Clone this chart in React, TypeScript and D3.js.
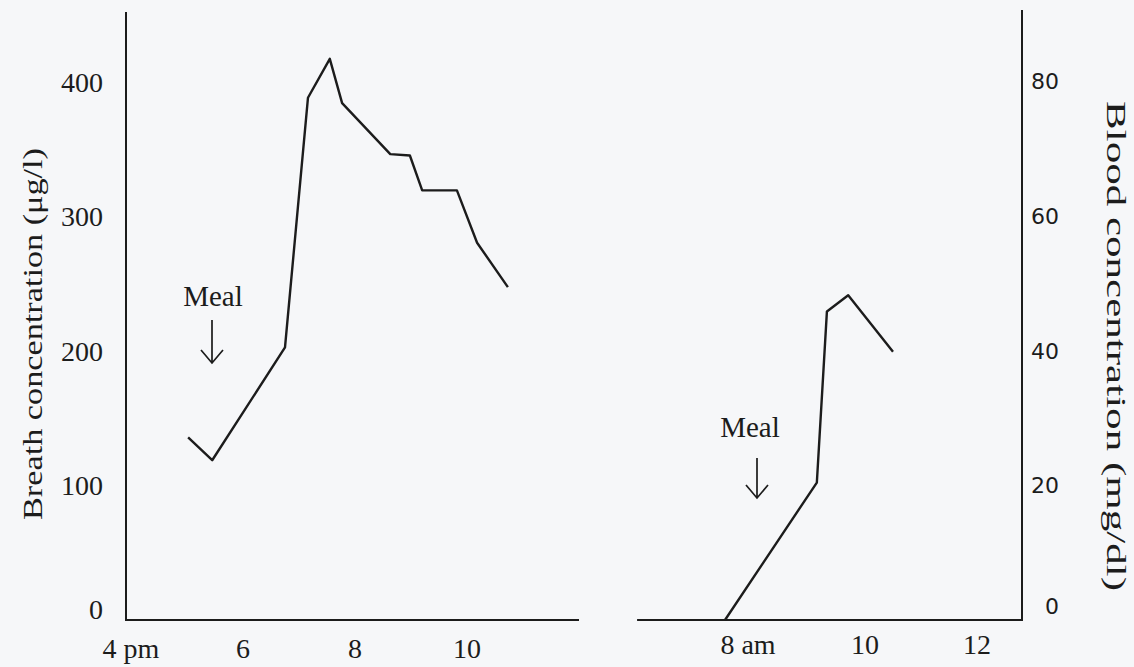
import React, { useEffect, useRef } from 'react';
import * as d3 from 'd3';

// evening series (breath, ug/l) - hours on a 24h clock
const eveningHours = [17.02, 17.45, 18.75, 19.16, 19.55, 19.77, 20.63, 20.98, 21.2, 21.82, 22.18, 22.73];
const breathValues = [136, 119, 203, 389, 418, 385, 347, 346, 320, 320, 281, 248];

// morning series (blood, mg/dl)
const morningHours = [7.5, 9.14, 9.32, 9.7, 10.5];
const bloodValues = [0, 20.4, 45.8, 48.2, 39.8];

const eveningTicks = [16, 18, 20, 22];
const eveningLabels = ['4 pm', '6', '8', '10'];
const morningTicks = [8, 10, 12];
const morningLabels = ['8 am', '10', '12'];
const breathTicks = [0, 100, 200, 300, 400];
const bloodTicks = [0, 20, 40, 60, 80];

const App = () => {
  const svgRef = useRef<SVGSVGElement>(null);

  useEffect(() => {
    const svg = d3.select(svgRef.current);
    svg.selectAll('*').remove();

    const ink = '#1c1c1c';
    const serif = '"Liberation Serif", "DejaVu Serif", serif';

    svg.append('rect').attr('width', 1134).attr('height', 667).attr('fill', '#f6f7f9');

    //scales
    const xEve = d3.scaleLinear().domain([16, 22]).range([131, 467]);
    const xMorn = d3.scaleLinear().domain([8, 12]).range([753, 977]);
    const yBreath = d3.scaleLinear().domain([0, 400]).range([620, 83]);
    const yBlood = d3.scaleLinear().domain([0, 80]).range([620, 81]);

    //axis lines
    const axes = svg.append('g').attr('stroke', ink).attr('stroke-width', 2).attr('fill', 'none');
    axes.append('path').attr('d', `M126,12V${yBreath(0)}H${xEve(24)}`);
    axes.append('path').attr('d', `M${xMorn(5.93)},${yBlood(0)}H1022V10`);

    //tick labels
    svg
      .append('g')
      .selectAll('text')
      .data(breathTicks)
      .join('text')
      .attr('x', 103)
      .attr('y', (d) => yBreath(d) + (d === 0 ? -1 : 9))
      .attr('text-anchor', 'end')
      .style('font-family', serif)
      .style('font-size', '28px')
      .attr('fill', ink)
      .text((d) => d);

    svg
      .append('g')
      .selectAll('text')
      .data(bloodTicks)
      .join('text')
      .attr('x', 1059)
      .attr('y', (d) => yBlood(d) + (d === 0 ? -6 : 8))
      .attr('text-anchor', 'end')
      .style('font-family', '"DejaVu Sans", sans-serif')
      .style('font-size', '22px')
      .attr('fill', ink)
      .text((d) => d);

    svg
      .append('g')
      .selectAll('text')
      .data(eveningTicks)
      .join('text')
      .attr('x', (d) => xEve(d))
      .attr('y', 658)
      .attr('text-anchor', 'middle')
      .style('font-family', serif)
      .style('font-size', '28px')
      .attr('fill', ink)
      .text((d, i) => eveningLabels[i]);

    svg
      .append('g')
      .selectAll('text')
      .data(morningTicks)
      .join('text')
      .attr('x', (d) => xMorn(d) + (d === 8 ? -5 : 0))
      .attr('y', 654)
      .attr('text-anchor', 'middle')
      .style('font-family', serif)
      .style('font-size', '28px')
      .attr('fill', ink)
      .text((d, i) => morningLabels[i]);

    //axis titles
    svg
      .append('text')
      .attr('transform', 'translate(42,334) rotate(-90)')
      .attr('text-anchor', 'middle')
      .attr('textLength', 372)
      .attr('lengthAdjust', 'spacingAndGlyphs')
      .style('font-family', serif)
      .style('font-size', '28px')
      .attr('fill', ink)
      .text('Breath concentration (\u03bcg/l)');

    svg
      .append('text')
      .attr('transform', 'translate(1107,346) rotate(90)')
      .attr('text-anchor', 'middle')
      .attr('textLength', 490)
      .attr('lengthAdjust', 'spacingAndGlyphs')
      .style('font-family', serif)
      .style('font-size', '28px')
      .attr('fill', ink)
      .text('Blood concentration (mg/dl)');

    //lines
    const eveLine = d3
      .line<number>()
      .x((d, i) => xEve(eveningHours[i]))
      .y((d) => yBreath(d));
    const mornLine = d3
      .line<number>()
      .x((d, i) => xMorn(morningHours[i]))
      .y((d) => yBlood(d));

    svg
      .append('path')
      .attr('d', eveLine(breathValues))
      .attr('fill', 'none')
      .attr('stroke', ink)
      .attr('stroke-width', 2.4)
      .attr('stroke-linejoin', 'round');
    svg
      .append('path')
      .attr('d', mornLine(bloodValues))
      .attr('fill', 'none')
      .attr('stroke', ink)
      .attr('stroke-width', 2.4)
      .attr('stroke-linejoin', 'round');

    //meal annotations
    const meals = [
      { x: 213, y: 296, ax: 212, ay1: 320, ay2: 363 },
      { x: 750, y: 427, ax: 757, ay1: 458, ay2: 498 }
    ];
    const m = svg.append('g');
    m.selectAll('text')
      .data(meals)
      .join('text')
      .attr('x', (d) => d.x)
      .attr('y', (d) => d.y + 10)
      .attr('text-anchor', 'middle')
      .style('font-family', serif)
      .style('font-size', '29px')
      .attr('fill', ink)
      .text('Meal');
    m.selectAll('path')
      .data(meals)
      .join('path')
      .attr('d', (d) => `M${d.ax},${d.ay1}V${d.ay2}M${d.ax - 11},${d.ay2 - 13}L${d.ax},${d.ay2}L${d.ax + 11},${d.ay2 - 13}`)
      .attr('fill', 'none')
      .attr('stroke', ink)
      .attr('stroke-width', 1.7);
  }, []);

  return (
    <div id="chartArea">
      <svg ref={svgRef} width={1134} height={667} style={{ position: 'absolute', left: 0, top: 0 }}></svg>
    </div>
  );
};

export default App;
